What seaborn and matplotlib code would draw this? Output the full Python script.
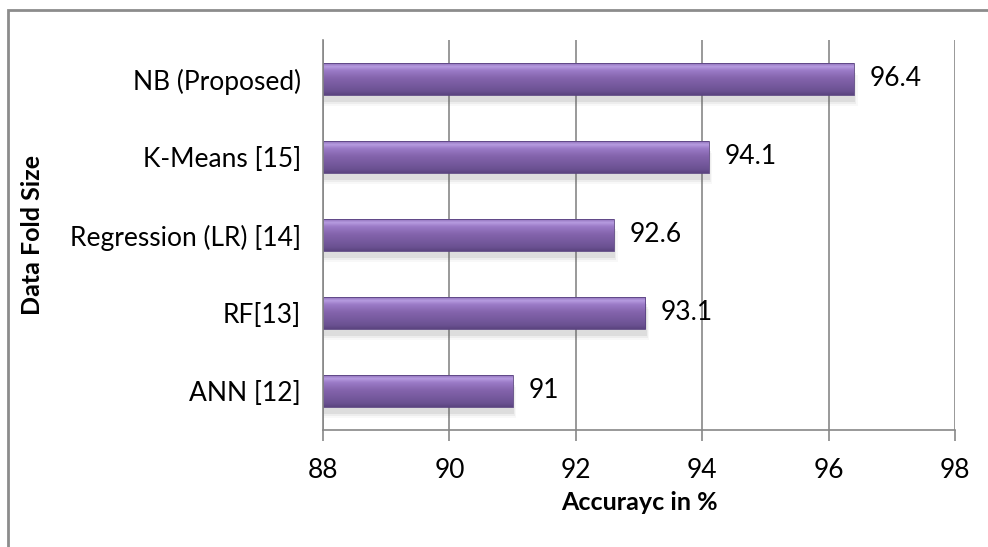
import numpy as np
import pandas as pd
import matplotlib
matplotlib.use("Agg")
import matplotlib.pyplot as plt
import seaborn as sns
from matplotlib.colors import LinearSegmentedColormap
from matplotlib.patches import Rectangle

categories = ["NB (Proposed)", "K-Means [15]", "Regression (LR) [14]", "RF[13]", "ANN [12]"]
accuracy = [96.4, 94.1, 92.6, 93.1, 91]
x_ticks = [88, 90, 92, 94, 96, 98]

df = pd.DataFrame({"Model": categories, "Accuracy": accuracy})

sns.set_theme(style="white")
plt.rcParams['font.family'] = ['Lato', 'DejaVu Sans']

FS = 19
FSB = 18
XMIN, XMAX = 88, 98

fig = plt.figure(figsize=(9.88, 5.47), dpi=100)
ax = fig.add_axes([323/988, 1 - 430/547, (955 - 323)/988, 390/547])

sns.barplot(data=df, x="Accuracy", y="Model", orient="h", ax=ax,
            color="#8064A2", width=0.4, zorder=3)

ax.set_xlim(XMIN, XMAX)
ax.set_ylim(4.5, -0.5)
ax.set_xticks(x_ticks)
ax.set_xticklabels([str(t) for t in x_ticks])

cmap = LinearSegmentedColormap.from_list(
    "bar", [(0.0, "#5B4580"), (0.12, "#6B5192"), (0.55, "#8565AE"),
            (0.78, "#9C7CC8"), (0.9, "#B79CE0"), (1.0, "#8E70BA")])
grad = np.linspace(0, 1, 64).reshape(-1, 1)
for p in list(ax.patches):
    y0, h = p.get_y(), p.get_height()
    x1 = p.get_x() + p.get_width()
    w = x1 - XMIN
    p.set_visible(False)
    for k, a in enumerate([0.10, 0.07, 0.04]):
        ax.add_patch(Rectangle((XMIN, y0 + h * 0.15 + 0.03 * (k + 1)), w + 0.02 * (k + 1), h,
                               facecolor="#606060", edgecolor="none", alpha=a, zorder=2))
    clip = Rectangle((XMIN, y0), w, h, transform=ax.transData, facecolor="none",
                     edgecolor="#5A4380", linewidth=0.6, zorder=5)
    ax.add_patch(clip)
    im = ax.imshow(grad, cmap=cmap, aspect="auto",
                   extent=(XMIN, x1, y0 + h, y0), origin="lower", zorder=4)
    im.set_clip_path(clip)

ax.set_xlim(XMIN, XMAX)
ax.set_ylim(4.5, -0.5)

for i, v in enumerate(accuracy):
    ax.text(v + 0.25, i, f"{v:g}", va="center", ha="left", fontsize=FS, color="black", zorder=6)

ax.grid(axis="x", color="#878787", linewidth=1.2, zorder=0)
ax.set_axisbelow(True)
for s in ["top", "right"]:
    ax.spines[s].set_visible(False)
for s in ["left", "bottom"]:
    ax.spines[s].set_color("#878787")
    ax.spines[s].set_linewidth(1.2)
    ax.spines[s].set_zorder(7)

ax.tick_params(axis="x", which="major", bottom=True, length=8, width=1.2,
               color="#878787", labelsize=FS, labelcolor="black", pad=12)
ax.tick_params(axis="y", left=False, labelsize=FS, labelcolor="black", pad=10)

ax.set_xlabel("Accurayc in %", fontsize=FSB, fontweight="bold", color="black", labelpad=6)
ax.set_ylabel("")
fig.text(33/988, 1 - 235/547, "Data Fold Size", rotation=90, fontsize=FSB, fontweight="bold",
         ha="center", va="center", color="black")

fig.add_artist(Rectangle((8/988, -0.1), 1.2, 1 - 10/547 + 0.1, transform=fig.transFigure,
                         fill=False, edgecolor="#8C8C8C", linewidth=2))

fig.savefig("out.png", dpi=100)
